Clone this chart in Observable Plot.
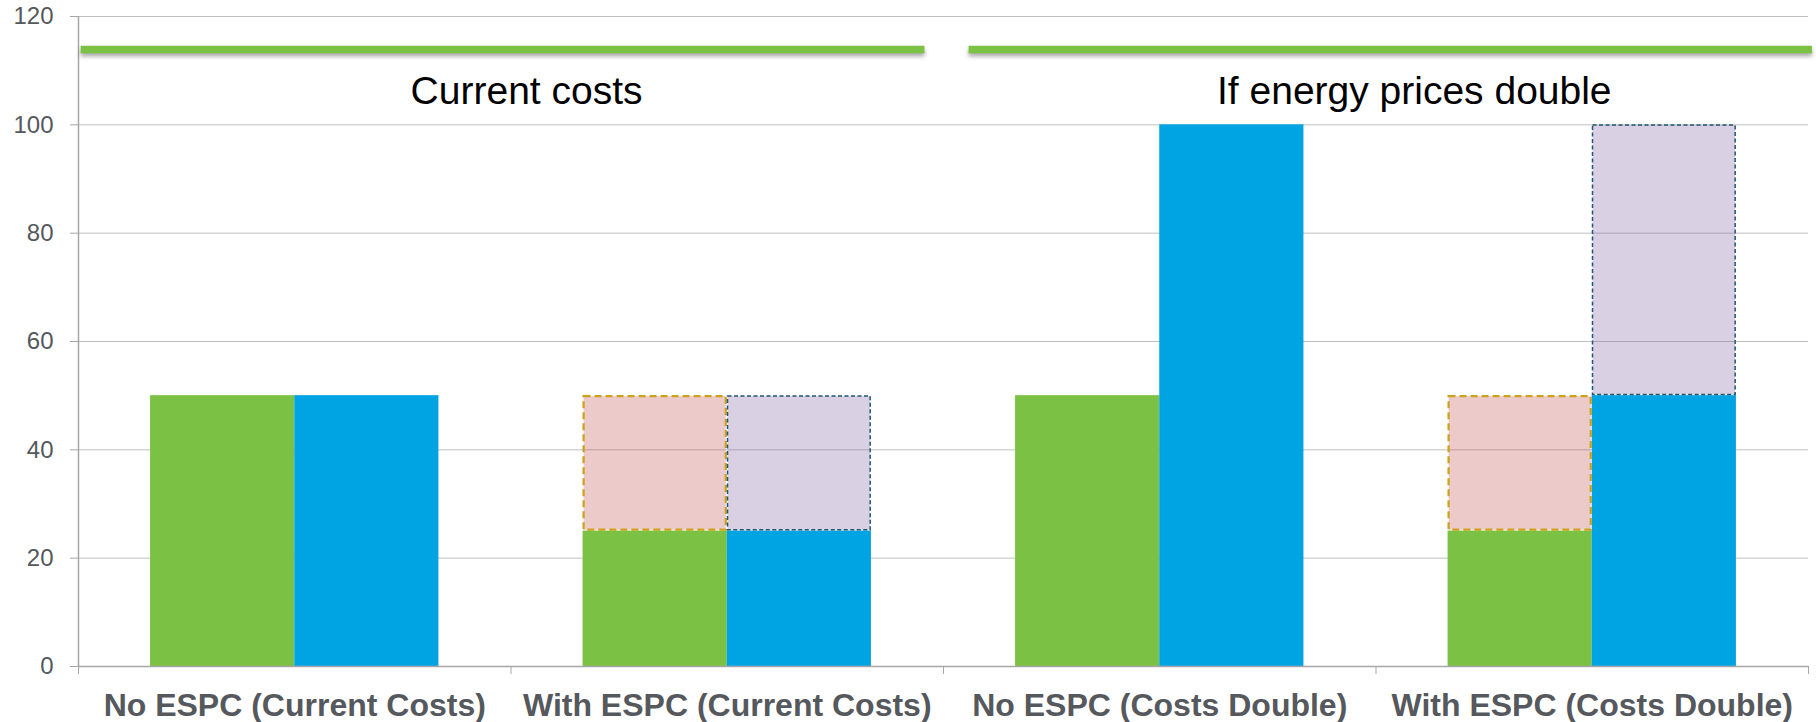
<!DOCTYPE html>
<html>
<head>
<meta charset="utf-8">
<script src="https://cdn.jsdelivr.net/npm/d3@7"></script>
<script src="https://cdn.jsdelivr.net/npm/@observablehq/plot@0.6"></script>
<style>
  html, body { margin: 0; padding: 0; background: #fff; }
  #chart svg { display: block; }
  g[aria-label="link"] { filter: drop-shadow(0px 3px 2px rgba(0,0,0,0.35)); }
</style>
</head>
<body>
<div id="chart"></div>
<script>
// ---- data ----
const categories = [
  "No ESPC (Current Costs)",
  "With ESPC (Current Costs)",
  "No ESPC (Costs Double)",
  "With ESPC (Costs Double)"
];
const seriesNames = ["Series 1", "Series 2"];
const series1Values = [50, 25, 50, 25];   // green bars
const series2Values = [50, 25, 100, 50];  // blue bars
const series1Savings = [0, 25, 0, 25];    // dashed pink boxes on top of green
const series2Savings = [0, 25, 0, 50];    // dashed lavender boxes on top of blue
const yTicks = [0, 20, 40, 60, 80, 100, 120];
const headerLabels = ["Current costs", "If energy prices double"];
const headerStart = [0.005, 2.058];
const headerEnd = [1.956, 4.008];
const headerLineValue = 113.9;
const headerTextValue = 106.2;

// ---- build tables ----
const seriesValues = [series1Values, series2Values];
const seriesSavings = [series1Savings, series2Savings];
const bars = [];
categories.forEach((c, i) => {
  seriesNames.forEach((s, j) => {
    bars.push({
      category: c,
      series: s,
      x1: i + 1 / 6 + j / 3,
      x2: i + 1 / 6 + (j + 1) / 3,
      value: seriesValues[j][i],
      saving: seriesSavings[j][i]
    });
  });
});
const boxes1 = bars.filter(d => d.series === seriesNames[0] && d.saving > 0);
const boxes2 = bars.filter(d => d.series === seriesNames[1] && d.saving > 0);
const headers = headerLabels.map((label, i) => ({
  label, x1: headerStart[i], x2: headerEnd[i], xm: (headerStart[i] + headerEnd[i]) / 2
}));

const font = "'Liberation Sans', Arial, sans-serif";
const axisColor = "#A6A6A6";
const textColor = "#55585C";

const chart = Plot.plot({
  width: 1816,
  height: 722,
  marginLeft: 78,
  marginRight: 8,
  marginTop: 16,
  marginBottom: 56,
  style: { fontFamily: font, background: "#fff" },
  x: { domain: [0, 4], axis: null },
  y: { domain: [0, 120], axis: null },
  color: { domain: seriesNames, range: ["#7BC143", "#00A4E3"] },
  marks: [
    Plot.gridY(yTicks, { stroke: "#BFBFBF", strokeOpacity: 1, strokeWidth: 1 }),
    Plot.rect(bars, { x1: "x1", x2: "x2", y1: 0, y2: "value", fill: "series" }),
    Plot.rect(boxes1, {
      x1: "x1", x2: "x2",
      y1: "value", y2: d => d.value + d.saving,
      fill: "#C0504D", fillOpacity: 0.3,
      stroke: "#CDA11B", strokeWidth: 2.25, strokeDasharray: "7,4",
      inset: 1
    }),
    Plot.rect(boxes2, {
      x1: "x1", x2: "x2",
      y1: "value", y2: d => d.value + d.saving,
      fill: "#8064A2", fillOpacity: 0.3,
      stroke: "#1F5570", strokeWidth: 1.5, strokeDasharray: "4,2.5",
      inset: 0.75
    }),
    // axes
    Plot.ruleX([0], { stroke: axisColor, strokeWidth: 1.5 }),
    Plot.ruleY([0], { stroke: axisColor, strokeWidth: 1.5 }),
    Plot.axisY({
      ticks: yTicks, tickSize: 8, tickPadding: 17, stroke: axisColor,
      fontSize: 24, fill: textColor, label: null
    }),
    Plot.axisX({
      ticks: [0, 1, 2, 3, 4], tickSize: 8, tickFormat: () => "", stroke: axisColor, label: null
    }),
    Plot.axisX({
      ticks: categories.map((c, i) => i + 0.5), tickSize: 0, tickPadding: 27,
      tickFormat: v => categories[Math.floor(v)],
      fontSize: 32, fontWeight: "bold", fill: textColor, label: null
    }),
    // header annotations
    Plot.link(headers, {
      x1: "x1", x2: "x2", y1: headerLineValue, y2: headerLineValue,
      stroke: "#7BC143", strokeWidth: 7.5, strokeLinecap: "butt"
    }),
    Plot.text(headers, {
      x: "xm", y: headerTextValue, text: "label", dx: 24,
      fontSize: 39, fill: "#000"
    })
  ]
});
document.getElementById("chart").appendChild(chart);
</script>
</body>
</html>
